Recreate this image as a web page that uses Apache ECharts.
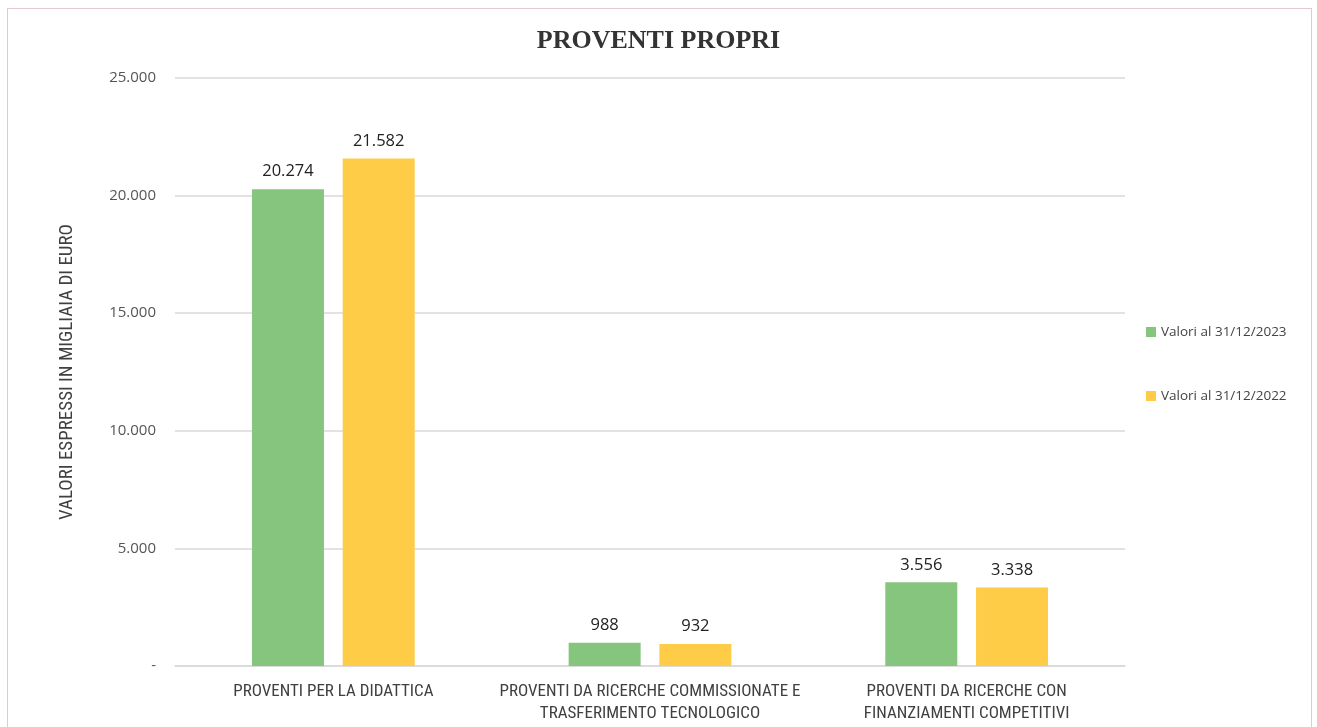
<!DOCTYPE html>
<html><head><meta charset="utf-8">
<script src="https://cdn.jsdelivr.net/npm/echarts@6/dist/echarts.min.js"></script>
<style>
html,body{margin:0;padding:0;background:#fff;}
#frame{position:absolute;left:7px;top:8px;width:1305px;height:740px;border:1px solid #e6c9cc;box-sizing:border-box;}
#c{position:absolute;left:0;top:0;width:1317px;height:727px;}
</style>
</head><body>
<div id="frame"></div>
<div id="c"></div>
<script>
const categories = ["PROVENTI PER LA DIDATTICA", "PROVENTI DA RICERCHE COMMISSIONATE E\nTRASFERIMENTO TECNOLOGICO", "PROVENTI DA RICERCHE CON\nFINANZIAMENTI COMPETITIVI"];
const seriesNames = ["Valori al 31/12/2023", "Valori al 31/12/2022"];
const values2023 = [20274, 988, 3556];
const values2022 = [21582, 932, 3338];
const yTicks = [0, 5000, 10000, 15000, 20000, 25000];

function fmt(v){
  if (v === 0) return "-";
  return String(Math.round(v)).replace(/\B(?=(\d{3})+(?!\d))/g, ".");
}
const narrow = "'Liberation Sans Narrow', 'Roboto Condensed', 'Open Sans', sans-serif";
const chart = echarts.init(document.getElementById('c'), null, {renderer:'canvas'});
chart.setOption({
  animation:false,
  backgroundColor:'transparent',
  title:{text:'PROVENTI PROPRI', left:'center', top:23,
    textStyle:{fontFamily:"'Liberation Serif', 'DejaVu Serif', serif", fontWeight:'bold', fontSize:26, color:'#333'}},
  grid:{left:175, right:192, top:78, bottom:61},
  legend:{orient:'vertical', left:1141, top:320, itemGap:50, itemWidth:10, itemHeight:10,
    icon:'rect', textStyle:{fontFamily:"'Open Sans', sans-serif", fontSize:13.5, color:'#444'}},
  xAxis:{type:'category', data:categories,
    axisLine:{lineStyle:{color:'#d9d9d9', width:1.5}}, axisTick:{show:false},
    axisLabel:{fontFamily:narrow, fontSize:17, color:'#404040', lineHeight:22, margin:15, interval:0}},
  yAxis:{type:'value', min:0, max:25000, interval:5000,
    name:'VALORI ESPRESSI IN MIGLIAIA DI EURO', nameLocation:'middle', nameGap:98, nameRotate:90,
    nameTextStyle:{fontFamily:narrow, fontSize:19, color:'#404040'},
    axisLabel:{formatter:fmt, fontFamily:"'Open Sans', sans-serif", fontSize:15, color:'#555', margin:19},
    axisLine:{show:false}, axisTick:{show:false},
    splitLine:{lineStyle:{color:'#d9d9d9', width:1.5}}},
  series:[
    {name:seriesNames[0], type:'bar', data:values2023, barWidth:72, barGap:'26%',
     itemStyle:{color:'#86c57d'},
     label:{show:true, position:'top', distance:9, formatter:p=>fmt(p.value), fontFamily:"'Open Sans', sans-serif", fontSize:16.5, color:'#222'}},
    {name:seriesNames[1], type:'bar', data:values2022, barWidth:72,
     itemStyle:{color:'#ffcc48'},
     label:{show:true, position:'top', distance:9, formatter:p=>fmt(p.value), fontFamily:"'Open Sans', sans-serif", fontSize:16.5, color:'#222'}}
  ]
});
</script>
</body></html>
